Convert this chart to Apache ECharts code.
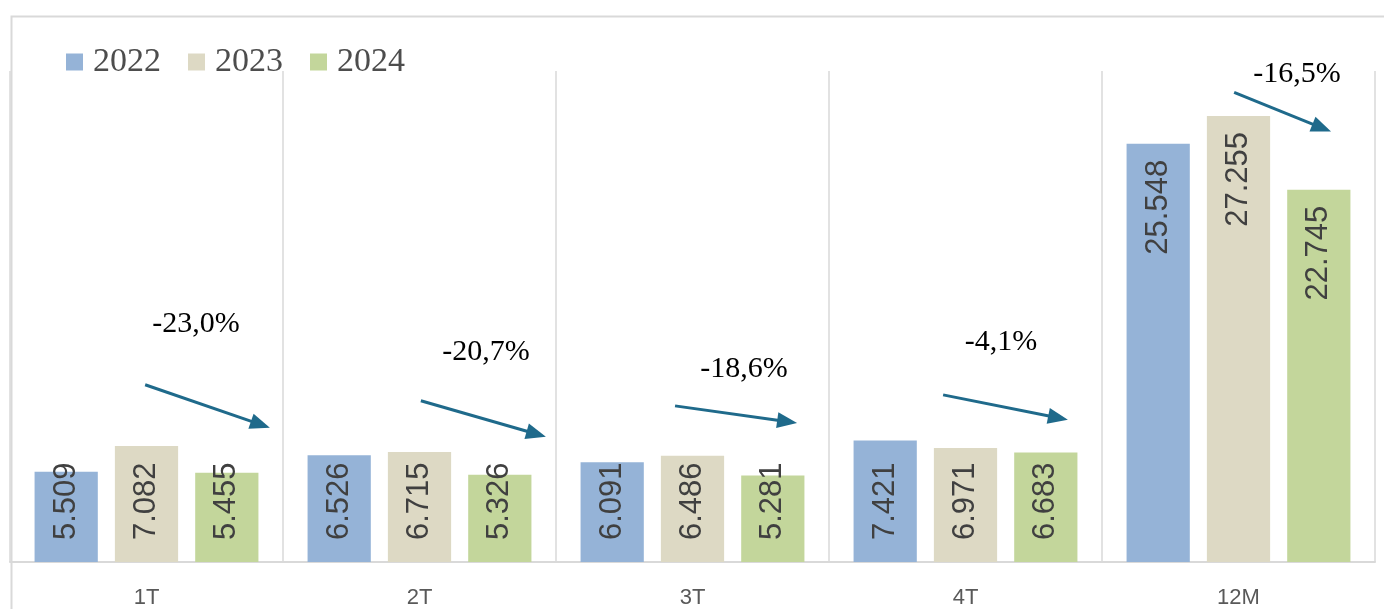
<!DOCTYPE html>
<html>
<head>
<meta charset="utf-8">
<title>Chart</title>
<script src="https://cdn.jsdelivr.net/npm/echarts@6/dist/echarts.min.js"></script>
<style>
  html, body { margin: 0; padding: 0; background: #fff; }
  #chart { width: 1384px; height: 609px; }
</style>
</head>
<body>
<div id="chart"></div>
<script>
// --- data ---
const categories = ['1T', '2T', '3T', '4T', '12M'];
const years = ['2022', '2023', '2024'];
const values2022 = [5.509, 6.526, 6.091, 7.421, 25.548];
const values2023 = [7.082, 6.715, 6.486, 6.971, 27.255];
const values2024 = [5.455, 5.326, 5.281, 6.683, 22.745];

// colours per year
const COLORS = ['#95b3d7', '#ddd9c4', '#c3d69b'];
const ARROW_COLOR = '#1f6a8b';

// arrow layout per category: offsets in category widths from the centre, y in axis units
// [startDx, startY, tipDx, tipY, labelDx, labelY]
const ARROW_LAYOUT = [
  [-0.005, 10.83, 0.452, 8.2, 0.181, 14.56],
  [0.005, 9.85, 0.463, 7.65, 0.244, 12.84],
  [-0.064, 9.54, 0.383, 8.5, 0.189, 11.8],
  [-0.082, 10.21, 0.375, 8.69, 0.13, 13.46],
  [-0.016, 28.69, 0.339, 26.3, 0.214, 29.79]
];

// variation 2024 vs 2023, comma decimals
const changes = values2024.map((v, i) => {
  const pct = (v / values2023[i] - 1) * 100;
  return (Math.round(pct * 10) / 10).toFixed(1).replace('.', ',') + '%';
});

// bar labels: short bars keep text at the bottom, tall ones hang from the top
const barData = (arr) => arr.map(v => {
  const tall = v > 15;
  return {
    value: v,
    label: tall
      ? { position: 'insideTop', distance: 16, align: 'right' }
      : { position: 'insideBottom', distance: 22, align: 'left' }
  };
});

const makeBar = (name, arr, idx) => ({
  name: name,
  type: 'bar',
  data: barData(arr),
  barGap: '27%',
  barCategoryGap: '18%',
  itemStyle: { color: COLORS[idx] },
  label: {
    show: true,
    rotate: 90,
    verticalAlign: 'middle',
    color: '#404040',
    fontFamily: 'Liberation Sans, Arial, sans-serif',
    fontSize: 31,
    formatter: p => p.value.toFixed(3)
  },
  silent: true
});

const chart = echarts.init(document.getElementById('chart'));

chart.setOption({
  animation: false,
  backgroundColor: '#fff',
  graphic: [{
    type: 'rect',
    left: 9,
    top: 14,
    shape: { width: 1400, height: 700 },
    style: { fill: 'none', stroke: '#d9d9d9', lineWidth: 2 },
    silent: true
  }],
  legend: {
    data: years,
    left: 61,
    top: 40,
    itemWidth: 17,
    itemHeight: 17,
    itemGap: 27,
    icon: 'rect',
    textStyle: {
      fontFamily: 'Liberation Serif, Times New Roman, serif',
      fontSize: 34,
      lineHeight: 34,
      color: '#4d4d4d',
      padding: [0, 0, 0, 5]
    }
  },
  grid: { left: 10, right: 9, top: 71, bottom: 47, containLabel: false },
  xAxis: {
    type: 'category',
    data: categories,
    axisTick: { show: false },
    axisLine: { lineStyle: { color: '#d9d9d9', width: 2 } },
    splitLine: { show: true, lineStyle: { color: '#d9d9d9', width: 1.5 } },
    axisLabel: {
      color: '#595959',
      fontFamily: 'Liberation Sans, Arial, sans-serif',
      fontSize: 22,
      margin: 25
    }
  },
  yAxis: {
    type: 'value',
    min: 0,
    max: 30,
    show: false,
    splitLine: { show: false }
  },
  series: [
    makeBar('2022', values2022, 0),
    makeBar('2023', values2023, 1),
    makeBar('2024', values2024, 2),
    {
      type: 'custom',
      silent: true,
      z: 10,
      clip: false,
      data: categories.map((c, i) => [i, 0]),
      encode: { x: 0, y: 1 },
      renderItem: (params, api) => {
        const i = params.dataIndex;
        const L = ARROW_LAYOUT[i];
        const centre = api.coord([i, 0]);
        const band = api.size([1, 0])[0];
        const x0 = centre[0] + L[0] * band;
        const y0 = api.coord([i, L[1]])[1];
        const x1 = centre[0] + L[2] * band;
        const y1 = api.coord([i, L[3]])[1];
        const lx = centre[0] + L[4] * band;
        const ly = api.coord([i, L[5]])[1];
        const dx = x1 - x0, dy = y1 - y0;
        const len = Math.sqrt(dx * dx + dy * dy);
        const ux = dx / len, uy = dy / len;
        const head = 20, half = 8;
        const bx = x1 - ux * head, by = y1 - uy * head;
        return {
          type: 'group',
          children: [
            {
              type: 'line',
              shape: { x1: x0, y1: y0, x2: bx + ux * 2, y2: by + uy * 2 },
              style: { stroke: ARROW_COLOR, lineWidth: 3 }
            },
            {
              type: 'polygon',
              shape: {
                points: [
                  [x1, y1],
                  [bx - uy * half, by + ux * half],
                  [bx + uy * half, by - ux * half]
                ]
              },
              style: { fill: ARROW_COLOR }
            },
            {
              type: 'text',
              style: {
                x: lx,
                y: ly,
                text: '-' + changes[i].replace('-', ''),
                fill: '#000',
                font: '30px "Liberation Serif", "Times New Roman", serif',
                align: 'center',
                verticalAlign: 'middle'
              }
            }
          ]
        };
      }
    }
  ]
});
</script>
</body>
</html>
